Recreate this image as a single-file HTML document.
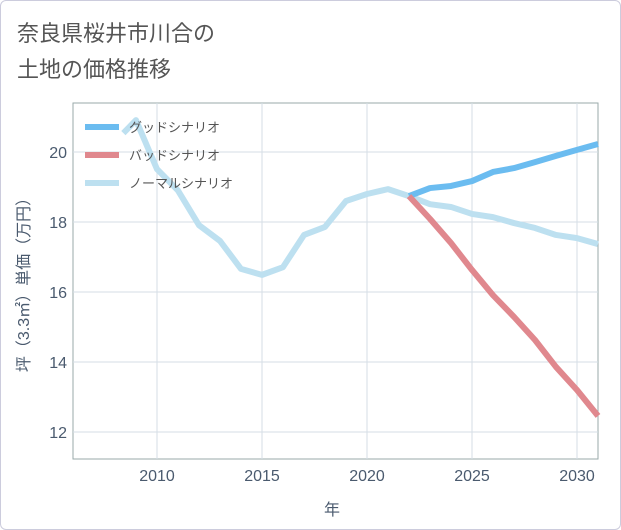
<!DOCTYPE html><html><head><meta charset="utf-8"><style>
body{margin:0;background:#fff;font-family:"Liberation Sans","Noto Sans CJK JP",sans-serif}
#c{position:relative;width:619px;height:528px;border:1px solid #ccd;border-radius:6px;overflow:hidden}
</style></head><body>
<div id="c">
<svg id="s" width="619" height="528">
<text x="16" y="40" font-size="22" fill="#555">奈良県桜井市川合の</text>
<text x="16" y="76" font-size="22" fill="#555">土地の価格推移</text>
<g id="grid"></g><g id="lines"></g><g id="ticks"></g>
<text x="331" y="514" font-size="16" fill="#4a5a6e" text-anchor="middle">年</text>
<text transform="translate(28,280) rotate(-90)" font-size="16" fill="#4a5a6e" text-anchor="middle">坪（3.3㎡）単価（万円）</text>
<g>
<line x1="84" y1="126" x2="118" y2="126" stroke="#6bbcf0" stroke-width="6"/>
<text x="128" y="131" font-size="13" fill="#555">グッドシナリオ</text>
<line x1="84" y1="154" x2="118" y2="154" stroke="#e0888e" stroke-width="6"/>
<text x="128" y="159" font-size="13" fill="#555">バッドシナリオ</text>
<line x1="84" y1="182" x2="118" y2="182" stroke="#bde0f0" stroke-width="6"/>
<text x="128" y="187" font-size="13" fill="#555">ノーマルシナリオ</text>
</g>
</svg></div>
<script>
const normalYears=[2008.4,2009,2010,2011,2012,2013,2014,2015,2016,2017,2018,2019,2020,2021,2022,2023,2024,2025,2026,2027,2028,2029,2030,2031];
const normalVals=[20.54,20.91,19.51,18.9,17.91,17.46,16.66,16.49,16.71,17.63,17.86,18.6,18.8,18.94,18.74,18.51,18.43,18.23,18.14,17.97,17.83,17.63,17.54,17.37];
const futureYears=[2022,2023,2024,2025,2026,2027,2028,2029,2030,2031];
const goodVals=[18.74,18.97,19.03,19.17,19.43,19.54,19.71,19.89,20.06,20.23];
const badVals=[18.74,18.09,17.4,16.63,15.91,15.29,14.63,13.86,13.2,12.46];
const xTicks=[2010,2015,2020,2025,2030];
const yTicks=[12,14,16,18,20];
const L=72,R=597,T=102,B=458;
const X=v=>L+(v-2006)/(2031-2006)*(R-L);
const Y=v=>B-(v-11.23)/(21.4-11.23)*(B-T);
const ns="http://www.w3.org/2000/svg";
function mk(p,t,a){const e=document.createElementNS(ns,t);for(const k in a)e.setAttribute(k,a[k]);document.getElementById(p).appendChild(e);return e;}
const bg=mk('grid','rect',{x:L,y:T,width:R-L,height:B-T,fill:'none',stroke:'#9aa',"stroke-width":1});


xTicks.forEach(t=>{const g=mk('grid','line',{x1:X(t),x2:X(t),y1:T,y2:B,stroke:'#d5dde6'});


const tx=mk('ticks','text',{x:X(t),y:B+22,"font-size":16,fill:'#4a5a6e',"text-anchor":'middle'});tx.textContent=t;

});
yTicks.forEach(t=>{const g=mk('grid','line',{x1:L,x2:R,y1:Y(t),y2:Y(t),stroke:'#d5dde6'});


const tx=mk('ticks','text',{x:L-6,y:Y(t)+6,"font-size":16,fill:'#4a5a6e',"text-anchor":'end'});tx.textContent=t;

});
function line(xs,vs,c,n){const p=mk('lines','polyline',{points:xs.map((x,i)=>X(x)+','+Y(vs[i])).join(' '),fill:'none',stroke:c,"stroke-width":6,"stroke-linejoin":'round'});

}
line(normalYears,normalVals,'#bde0f0','normal-line');
line(futureYears,goodVals,'#6bbcf0','good-line');
line(futureYears,badVals,'#e0888e','bad-line');
</script></body></html>
